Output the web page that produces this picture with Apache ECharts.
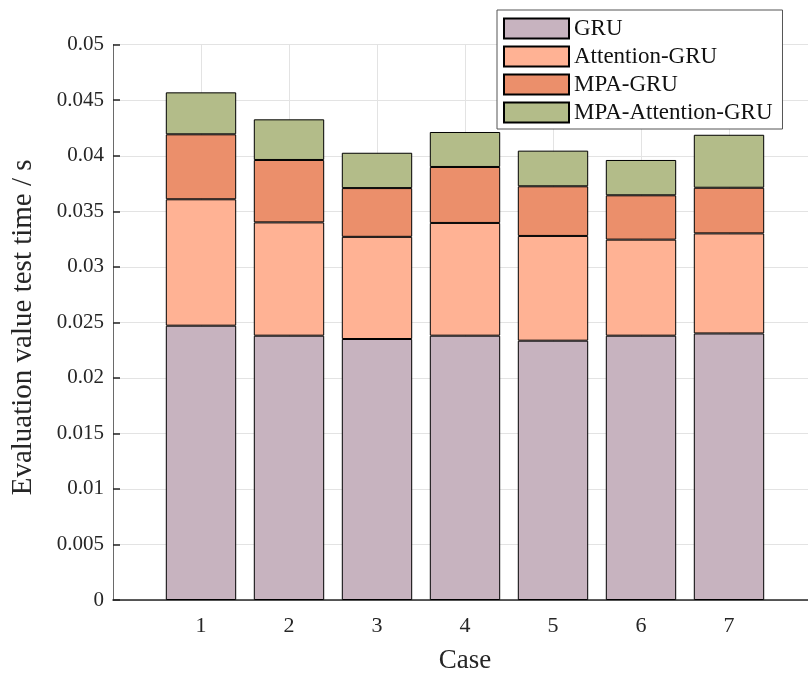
<!DOCTYPE html>
<html>
<head>
<meta charset="utf-8">
<script src="https://cdn.jsdelivr.net/npm/echarts@6/dist/echarts.min.js"></script>
<style>
  html, body { margin: 0; padding: 0; background: #fff; }
  #chart { width: 808px; height: 675px; }
</style>
</head>
<body>
<div id="chart"></div>
<script>
// Test time per case, split by model (stacked segments, seconds)
const cases = ['1', '2', '3', '4', '5', '6', '7'];
const seriesNames = ['GRU', 'Attention-GRU', 'MPA-GRU', 'MPA-Attention-GRU'];
const gru = [0.0247, 0.0238, 0.0235, 0.0238, 0.02335, 0.0238, 0.0240];
const attentionGru = [0.01138, 0.0102, 0.0092, 0.01015, 0.00943, 0.00865, 0.00901];
const mpaGru = [0.00585, 0.00562, 0.00439, 0.00504, 0.00447, 0.00399, 0.00411];
const mpaAttentionGru = [0.00378, 0.00366, 0.00318, 0.00315, 0.00321, 0.00318, 0.00477];
const yTicks = ['0', '0.005', '0.01', '0.015', '0.02', '0.025', '0.03', '0.035', '0.04', '0.045', '0.05'];

const colors = ['#C7B3BF', '#FFB294', '#EB8F6B', '#B3BC89'];
const font = '"Liberation Serif", "Times New Roman", serif';
const axisColor = '#262626';

const values = [gru, attentionGru, mpaGru, mpaAttentionGru];

// The x axis runs from 0 to 8 with the cases on the inner points; the two
// end points stay empty and unlabelled.
const slots = ['0'].concat(cases, ['8']);
const pad = arr => [null].concat(arr, [null]);

const chart = echarts.init(document.getElementById('chart'), null, { renderer: 'canvas' });

chart.setOption({
  animation: false,
  backgroundColor: '#fff',
  grid: { left: 113, right: -9, top: 44.7, bottom: 75, containLabel: false, outerBoundsMode: 'none' },
  legend: {
    orient: 'vertical',
    left: 497,
    top: 10,
    itemWidth: 65,
    itemHeight: 20,
    itemGap: 5,
    padding: [7, 10, 5, 6],
    backgroundColor: '#fff',
    borderColor: '#555',
    borderWidth: 1,
    borderRadius: 0,
    icon: 'rect',
    data: seriesNames,
    textStyle: { fontFamily: font, fontSize: 23, color: '#111' }
  },
  xAxis: {
    type: 'category',
    data: slots,
    boundaryGap: false,
    name: 'Case',
    nameLocation: 'middle',
    nameGap: 47,
    nameTextStyle: { fontFamily: font, fontSize: 27, color: axisColor },
    axisLine: { show: true, onZero: false, lineStyle: { color: axisColor, width: 1.5 } },
    axisTick: { show: false },
    axisLabel: {
      fontFamily: font, fontSize: 22, color: axisColor, margin: 15, interval: 0,
      formatter: (v, i) => (i >= 1 && i <= cases.length) ? v : ''
    },
    splitLine: { show: true, interval: 0, lineStyle: { color: '#E3E3E3', width: 1 } }
  },
  yAxis: {
    type: 'value',
    min: 0,
    max: 0.05,
    interval: 0.005,
    name: 'Evaluation value test time / s',
    nameLocation: 'middle',
    nameGap: 75,
    nameTextStyle: { fontFamily: font, fontSize: 29, color: axisColor, padding: [0, 10, 0, 0] },
    axisLine: { show: true, lineStyle: { color: '#6a6a6a', width: 1 } },
    axisTick: { show: true, inside: true, length: 7, lineStyle: { color: axisColor, width: 1.5 } },
    axisLabel: {
      fontFamily: font, fontSize: 21, color: axisColor, margin: 9,
      formatter: (v) => yTicks[Math.round(v / 0.005)]
    },
    splitLine: { show: true, lineStyle: { color: '#E3E3E3', width: 1 } }
  },
  series: seriesNames.map((name, k) => ({
    name,
    type: 'bar',
    stack: 'total',
    barWidth: 70.4,
    data: pad(values[k]),
    itemStyle: { color: colors[k], borderColor: '#000', borderWidth: 1 },
    z: 3
  }))
});
</script>
</body>
</html>
